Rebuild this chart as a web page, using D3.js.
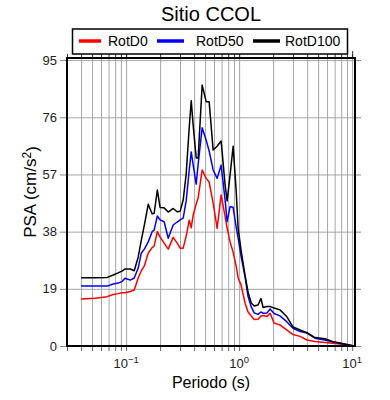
<!DOCTYPE html>
<html>
<head>
<meta charset="utf-8">
<script src="https://cdn.jsdelivr.net/npm/d3@7"></script>
<style>
  body { margin: 0; background: #fff; }
  svg { display: block; font-family: "Liberation Sans", Arial, sans-serif; }
</style>
</head>
<body>
<div id="vis"></div>
<script>
// Data (period in s, PSA in cm/s^2)
const PERIODS = [0.04, 0.053, 0.068, 0.077, 0.085, 0.092, 0.098, 0.109, 0.118, 0.128,
  0.136, 0.145, 0.157, 0.170, 0.177, 0.189, 0.200, 0.217, 0.236, 0.261,
  0.283, 0.301, 0.320, 0.340, 0.362, 0.377, 0.392, 0.417, 0.434, 0.471,
  0.511, 0.543, 0.589, 0.639, 0.693, 0.752, 0.783, 0.832, 0.885, 0.941,
  0.980, 1.04, 1.13, 1.20, 1.28, 1.36, 1.47, 1.56, 1.63, 1.77,
  1.88, 2.04, 2.30, 2.65, 3.00, 3.46, 3.99, 4.69, 5.75, 6.77,
  7.80, 9.00, 10.0];

const ROTD0 = [15.6, 15.9, 16.4, 17.1, 17.4, 17.7, 17.7, 18.1, 18.6, 22.6,
  24.9, 26.6, 30.9, 32.7, 33.2, 38.0, 36.2, 34.2, 32.2, 36.1,
  34.2, 32.5, 32.5, 36.5, 41.8, 39.3, 43.5, 47.2, 49.2, 58.5,
  55.7, 54.5, 47.5, 39.1, 50.2, 43.0, 39.2, 34.6, 31.2, 26.6,
  22.6, 20.3, 14.2, 11.3, 10.0, 8.8, 8.9, 10.0, 10.1, 9.8,
  10.9, 7.6, 7.0, 5.3, 3.8, 3.2, 2.0, 1.5, 1.2, 0.9,
  0.7, 0.4, 0.2];

const ROTD50 = [19.9, 19.9, 19.9, 20.6, 20.9, 21.4, 22.5, 21.9, 22.6, 25.9,
  30.8, 32.2, 34.6, 38.0, 38.5, 43.2, 41.9, 41.3, 35.8, 40.2,
  41.2, 41.9, 42.5, 48.2, 58.5, 64.5, 60.2, 53.8, 60.4, 72.5,
  68.4, 64.8, 58.5, 55.7, 60.1, 48.5, 41.3, 46.3, 46.1, 39.6,
  35.9, 29.9, 22.9, 16.4, 13.0, 11.0, 10.5, 11.3, 10.9, 11.0,
  12.3, 10.8, 10.0, 8.0, 5.9, 4.8, 4.3, 2.6, 2.0, 1.3,
  0.9, 0.4, 0.1];

const ROTD100 = [22.7, 22.7, 22.8, 23.6, 24.3, 24.9, 25.6, 25.6, 25.0, 29.6,
  34.9, 40.2, 47.1, 43.9, 44.1, 51.8, 46.0, 45.9, 44.5, 45.7,
  44.6, 44.8, 48.5, 57.1, 72.7, 81.5, 73.4, 62.5, 62.5, 86.7,
  81.2, 81.2, 65.1, 66.4, 68.1, 53.5, 48.2, 56.8, 66.4, 51.8,
  39.2, 31.9, 23.3, 17.9, 14.3, 13.3, 13.6, 15.8, 12.8, 13.1,
  13.1, 12.6, 12.0, 9.7, 6.3, 5.3, 4.4, 2.8, 2.4, 1.4,
  1.0, 0.5, 0.1];

const SERIES_NAMES = ["RotD0", "RotD50", "RotD100"];
const SERIES_VALUES = [ROTD0, ROTD50, ROTD100];
const SERIES_COLORS = ["#ff0000", "#0000ff", "#000000"];

const Y_TICKS = [0, 19, 38, 57, 76, 95];
const X_MAJOR = [0.1, 1, 10];
const X_EXPONENTS = ["\u22121", "0", "1"];

// frame
const FRAME_WIDTH = 390;
const FRAME_HEIGHT = 400;
const PLOT = {left: 67, right: 355, top: 58, bottom: 346};
const LEGEND_X = [79, 157, 253];   // line start of each legend entry

const SVG = d3.select("#vis")
  .append("svg")
    .attr("width", FRAME_WIDTH)
    .attr("height", FRAME_HEIGHT);

const X_SCALE = d3.scaleLog()
  .domain([0.03, 10.6])
  .range([PLOT.left, PLOT.right]);

const Y_SCALE = d3.scaleLinear()
  .domain([0, 95.7])
  .range([PLOT.bottom, PLOT.top]);

const X_MINOR = X_SCALE.ticks();

// grid
SVG.append("g")
  .attr("transform", "translate(0," + PLOT.bottom + ")")
  .call(d3.axisBottom(X_SCALE).tickValues(X_MINOR).tickSize(-(PLOT.bottom - PLOT.top)).tickFormat(""))
  .call(g => g.select(".domain").remove())
  .call(g => g.selectAll("line").attr("stroke", "#a6a6a6").attr("stroke-width", 1));

SVG.append("g")
  .attr("transform", "translate(" + PLOT.left + ",0)")
  .call(d3.axisLeft(Y_SCALE).tickValues(Y_TICKS).tickSize(-(PLOT.right - PLOT.left)).tickFormat(""))
  .call(g => g.select(".domain").remove())
  .call(g => g.selectAll("line").attr("stroke", "#a6a6a6").attr("stroke-width", 1));

// curves
const line = d3.line()
  .x((d, i) => X_SCALE(PERIODS[i]))
  .y(d => Y_SCALE(d));

SVG.append("g")
  .selectAll("path")
  .data(SERIES_VALUES)
  .enter()
  .append("path")
    .attr("d", d => line(d))
    .attr("fill", "none")
    .attr("stroke", (d, i) => SERIES_COLORS[i])
    .attr("stroke-width", 1.5)
    .attr("stroke-linejoin", "round");

// frame
SVG.append("rect")
  .attr("x", PLOT.left)
  .attr("y", PLOT.top)
  .attr("width", PLOT.right - PLOT.left)
  .attr("height", PLOT.bottom - PLOT.top)
  .attr("fill", "none")
  .attr("stroke", "black")
  .attr("stroke-width", 2);

// ticks
function tickStyle(g, color) {
  g.select(".domain").remove();
  g.selectAll("line").attr("stroke", color).attr("stroke-width", 1);
}

SVG.append("g")
  .attr("transform", "translate(0," + (PLOT.bottom + 1) + ")")
  .call(d3.axisBottom(X_SCALE).tickValues(X_MINOR).tickSize(4).tickFormat(""))
  .call(g => tickStyle(g, "#666"));

SVG.append("g")
  .attr("transform", "translate(0," + (PLOT.top - 1) + ")")
  .call(d3.axisTop(X_SCALE).tickValues(X_MINOR).tickSize(3).tickFormat(""))
  .call(g => tickStyle(g, "#333"));

SVG.append("g")
  .attr("transform", "translate(0," + (PLOT.top - 1) + ")")
  .call(d3.axisTop(X_SCALE).tickValues(X_MAJOR).tickSize(6).tickFormat(""))
  .call(g => tickStyle(g, "#333"));

SVG.append("g")
  .attr("transform", "translate(" + (PLOT.left - 1) + ",0)")
  .call(d3.axisLeft(Y_SCALE).tickValues(Y_TICKS).tickSize(6).tickPadding(3))
  .call(g => tickStyle(g, "#888"))
  .call(g => g.selectAll("text")
    .attr("font-family", "Liberation Sans, Arial, sans-serif")
    .attr("font-size", "13px")
    .attr("fill", "#222"));

SVG.append("g")
  .attr("transform", "translate(" + (PLOT.right + 1) + ",0)")
  .call(d3.axisRight(Y_SCALE).tickValues(Y_TICKS).tickSize(5).tickFormat(""))
  .call(g => tickStyle(g, "#888"));

// x major labels 10^n
const xLabels = SVG.append("g")
  .selectAll("text")
  .data(X_MAJOR)
  .enter()
  .append("text")
    .attr("x", d => X_SCALE(d))
    .attr("y", 368)
    .attr("text-anchor", "middle")
    .attr("font-size", "13px")
    .attr("fill", "#222");

xLabels.append("tspan").text("10");
xLabels.append("tspan")
  .attr("dy", "-0.5em")
  .attr("font-size", "9.5px")
  .text((d, i) => X_EXPONENTS[i]);

// axis labels
SVG.append("text")
  .attr("x", (PLOT.left + PLOT.right) / 2)
  .attr("y", 388)
  .attr("text-anchor", "middle")
  .attr("font-size", "16px")
  .text("Periodo (s)");

const yLabel = SVG.append("text")
  .attr("transform", "translate(36,192) rotate(-90)")
  .attr("text-anchor", "middle")
  .attr("font-size", "17px");
yLabel.append("tspan").text("PSA (cm/s");
yLabel.append("tspan").attr("dy", "-0.45em").attr("font-size", "12px").text("2");
yLabel.append("tspan").attr("dy", "0.45em").text(")");

// title
SVG.append("text")
  .attr("x", (PLOT.left + PLOT.right) / 2)
  .attr("y", 21)
  .attr("text-anchor", "middle")
  .attr("font-size", "20px")
  .text("Sitio CCOL");

// legend
SVG.append("rect")
  .attr("x", 72.5)
  .attr("y", 29)
  .attr("width", 275)
  .attr("height", 25)
  .attr("fill", "white")
  .attr("stroke", "black")
  .attr("stroke-width", 1.5);

const legend = SVG.append("g")
  .selectAll("g")
  .data(SERIES_NAMES)
  .enter()
  .append("g")
    .attr("transform", (d, i) => "translate(" + LEGEND_X[i] + ",41)");

legend.append("line")
  .attr("x1", 0)
  .attr("x2", (d, i) => i === 0 ? 22 : 27)
  .attr("stroke", (d, i) => SERIES_COLORS[i])
  .attr("stroke-width", 3.5);

legend.append("text")
  .attr("x", (d, i) => [29, 39, 32][i])
  .attr("y", 5)
  .attr("font-size", "14px")
  .text(d => d);
</script>
</body>
</html>
